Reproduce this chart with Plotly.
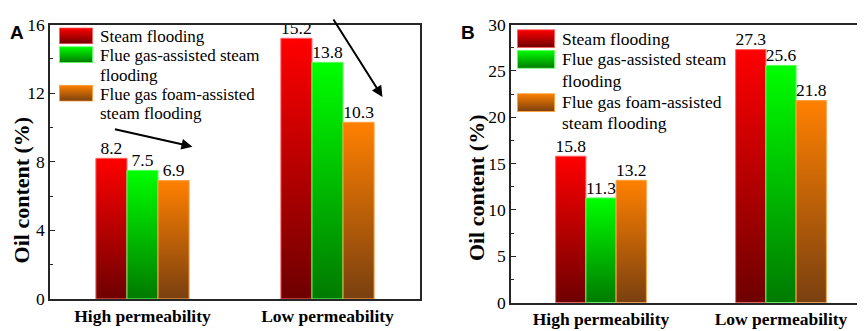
import base64
import plotly.graph_objects as go

# ---------------- data ----------------
categories = ["High permeability", "Low permeability"]
series_names = ["Steam flooding",
                "Flue gas-assisted steam<br>flooding",
                "Flue gas foam-assisted<br>steam flooding"]
panel_a_steam = [8.2, 15.2]
panel_a_flue = [7.5, 13.8]
panel_a_foam = [6.9, 10.3]
panel_b_steam = [15.8, 27.3]
panel_b_flue = [11.3, 25.6]
panel_b_foam = [13.2, 21.8]
a_ticks = [0, 4, 8, 12, 16]
b_ticks = [0, 5, 10, 15, 20, 25, 30]

# ---------------- style ----------------
W, H = 865, 331
bright = ["#ff0000", "#00ff00", "#ff8000"]
dark = ["#6e0000", "#007a00", "#7a4010"]
edge = ["#ff6060", "#60ff60", "#ffa040"]
SERIF = "Liberation Serif"
BAR_W = 0.168


def px_x(p):
    return p / W


def px_y(p):
    return 1 - p / H


fig = go.Figure()

panels = [
    dict(vals=[panel_a_steam, panel_a_flue, panel_a_foam], xa="x", ya="y"),
    dict(vals=[panel_b_steam, panel_b_flue, panel_b_foam], xa="x2", ya="y2"),
]

for pnl in panels:
    for j, series in enumerate(pnl["vals"]):
        for i, v in enumerate(series):
            c = i + (j - 1) * BAR_W
            x0, x1 = c - BAR_W / 2, c + BAR_W / 2
            fig.add_trace(go.Scatter(
                x=[x0, x0, x1, x1, x0], y=[0, v, v, 0, 0],
                mode="lines", fill="toself",
                fillgradient=dict(type="vertical",
                                  colorscale=[[0, dark[j]], [1, bright[j]]]),
                line=dict(color=edge[j], width=1),
                xaxis=pnl["xa"], yaxis=pnl["ya"],
                showlegend=False, hoverinfo="skip"))
        fig.add_trace(go.Scatter(
            x=[i + (j - 1) * BAR_W for i in range(len(series))], y=series,
            mode="text", text=[f"{v}" for v in series],
            textposition="top center",
            textfont=dict(family=SERIF, size=17.5, color="black"),
            cliponaxis=False, xaxis=pnl["xa"], yaxis=pnl["ya"],
            showlegend=False, hoverinfo="skip"))

axis_common = dict(showline=True, linecolor="#262626", linewidth=1.5,
                   mirror=True, showgrid=False, zeroline=False,
                   ticklabeloverflow="allow")
xcommon = dict(axis_common, range=[-0.5, 1.5], tickvals=[0, 1],
               ticktext=[f"<b>{c}</b>" for c in categories], ticks="",
               tickfont=dict(family=SERIF, size=17.5, color="black"))
ycommon = dict(axis_common, ticks="inside", ticklen=5, tickwidth=1.2,
               tickcolor="#262626",
               tickfont=dict(family=SERIF, size=17.5, color="black"))

fig.update_layout(
    width=W, height=H, margin=dict(l=0, r=0, t=0, b=0),
    paper_bgcolor="white", plot_bgcolor="white", showlegend=False,
    xaxis=dict(xcommon, domain=[px_x(42), px_x(412)], anchor="y"),
    yaxis=dict(ycommon, domain=[px_y(299), px_y(7)], anchor="x",
               range=[0, 16.0001], tickvals=a_ticks,
               minor=dict(ticks="inside", ticklen=3, dtick=2,
                          tickcolor="#262626")),
    xaxis2=dict(xcommon, domain=[px_x(503), px_x(863)], anchor="y2"),
    yaxis2=dict(ycommon, domain=[px_y(303), px_y(7)], anchor="x2",
                range=[0, 30.0001], tickvals=b_ticks,
                minor=dict(ticks="inside", ticklen=3, dtick=2.5,
                           tickcolor="#262626")),
)


def swatch_uri(j, w, h):
    svg = (f'<svg xmlns="http://www.w3.org/2000/svg" width="{w}" height="{h}" '
           f'viewBox="0 0 {w} {h}" preserveAspectRatio="none">'
           f'<defs><linearGradient id="g" x1="0" y1="0" x2="0" y2="1">'
           f'<stop offset="0" stop-color="{bright[j]}"/>'
           f'<stop offset="1" stop-color="{dark[j]}"/></linearGradient></defs>'
           f'<rect x="0.5" y="0.5" width="{w-1}" height="{h-1}" fill="url(#g)" '
           f'stroke="{edge[j]}" stroke-width="1"/></svg>')
    return "data:image/svg+xml;base64," + base64.b64encode(svg.encode()).decode()


annotations = []
images = []
legend_specs = [
    dict(sx=51, sw=34, sh=18, sy=[10, 30, 71], tx=90,
         ty=[[20], [40, 61], [81, 102]], fs=17),
    dict(sx=509, sw=38, sh=20, sy=[12, 34, 80], tx=552,
         ty=[[22], [44, 67], [89, 112]], fs=17.5),
]
for spec in legend_specs:
    for j, name in enumerate(series_names):
        images.append(dict(source=swatch_uri(j, spec["sw"], spec["sh"]),
                           xref="paper", yref="paper",
                           x=px_x(spec["sx"]), y=px_y(spec["sy"][j]),
                           sizex=spec["sw"] / W, sizey=spec["sh"] / H,
                           xanchor="left", yanchor="top", sizing="stretch",
                           layer="above"))
        for line, yy in zip(name.split("<br>"), spec["ty"][j]):
            annotations.append(dict(text=line, xref="paper", yref="paper",
                                    x=px_x(spec["tx"]), y=px_y(yy),
                                    xanchor="left", yanchor="middle",
                                    showarrow=False,
                                    font=dict(family=SERIF, size=spec["fs"],
                                              color="black")))

# y-axis titles
for xc, yc in [(13.5, 183), (468, 180)]:
    annotations.append(dict(text="<b>Oil content (%)</b>", textangle=-90,
                            xref="paper", yref="paper", x=px_x(xc), y=px_y(yc),
                            xanchor="center", yanchor="middle", showarrow=False,
                            font=dict(family=SERIF, size=22, color="black")))

# panel labels
for lab, xl in [("A", 0), ("B", 451)]:
    annotations.append(dict(text=f"<b>{lab}</b>", xref="paper", yref="paper",
                            x=px_x(xl), y=px_y(2), xanchor="left",
                            yanchor="top", showarrow=False,
                            font=dict(family="Liberation Sans", size=19,
                                      color="black")))

# trend arrows (panel A)
for (x0, y0, x1, y1) in [(-0.157, 9.92, 0.27, 8.88),
                         (1.027, 16.38, 1.297, 11.78)]:
    annotations.append(dict(x=x1, y=y1, ax=x0, ay=y0, xref="x", yref="y",
                            axref="x", ayref="y", showarrow=True,
                            arrowhead=2, arrowsize=1.1, arrowwidth=2,
                            arrowcolor="black", text=""))

fig.update_layout(annotations=annotations, images=images)
fig.write_html("out.html")
